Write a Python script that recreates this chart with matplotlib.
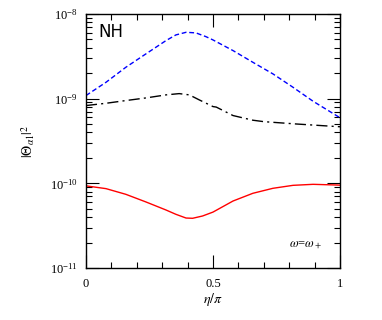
import numpy as np
import matplotlib
matplotlib.use("Agg")
import matplotlib.pyplot as plt
from matplotlib.ticker import LogLocator, NullFormatter, FixedLocator

plt.rcParams['font.family'] = ['Liberation Serif', 'DejaVu Serif']
plt.rcParams['mathtext.fontset'] = 'stix'

# values (log10 of |Theta|^2)
eta_blue = [0.0, 0.079, 0.157, 0.236, 0.315, 0.354, 0.394, 0.433, 0.472, 0.5,
            0.579, 0.657, 0.736, 0.815, 0.894, 0.986, 1.0]
log_blue = [-8.964, -8.807, -8.630, -8.472, -8.315, -8.248, -8.217, -8.224, -8.268, -8.307,
            -8.433, -8.571, -8.708, -8.866, -9.031, -9.20, -9.225]

eta_black = [0.0, 0.079, 0.157, 0.236, 0.315, 0.367, 0.407, 0.446, 0.5, 0.513,
             0.579, 0.657, 0.7, 0.83, 0.987, 1.0]
log_black = [-9.082, -9.055, -9.023, -8.992, -8.956, -8.941, -8.956, -9.015, -9.094, -9.10,
             -9.20, -9.255, -9.272, -9.30, -9.33, -9.332]

eta_red = [0.0, 0.079, 0.157, 0.236, 0.315, 0.354, 0.394, 0.42, 0.459, 0.5,
           0.579, 0.657, 0.736, 0.815, 0.894, 0.986, 1.0]
log_red = [-10.03, -10.063, -10.13, -10.22, -10.315, -10.366, -10.41, -10.413, -10.386, -10.34,
           -10.209, -10.118, -10.059, -10.024, -10.012, -10.02, -10.022]

x_major = [0, 0.5, 1]
x_labels = ['0', '0.5', '1']

fig = plt.figure(figsize=(3.82, 3.2), dpi=100)
ax = fig.add_axes([0.225, 0.1625, 0.665, 0.794])

ax.plot(eta_blue, 10**np.array(log_blue), color='blue', lw=1.0, dashes=(3.5, 2))
ax.plot(eta_black, 10**np.array(log_black), color='black', lw=1.0, dashes=(8, 3, 1.5, 3))
ax.plot(eta_red, 10**np.array(log_red), color='red', lw=1.0)

ax.set_yscale('log')
ax.set_xlim(0, 1)
ax.set_ylim(1e-11, 1e-8)
ax.set_xticks(x_major)
ax.set_xticklabels(x_labels)
ax.xaxis.set_minor_locator(FixedLocator(np.arange(0, 1.01, 0.1)))
ax.yaxis.set_major_locator(LogLocator(base=10, numticks=100))
ax.yaxis.set_minor_locator(LogLocator(base=10, subs=np.arange(2, 10), numticks=100))
ax.yaxis.set_minor_formatter(NullFormatter())
ax.tick_params(which='both', direction='in', top=True, right=True, labelsize=9,
               width=0.8, color='black')
ax.tick_params(which='major', length=9.5)
ax.tick_params(which='minor', length=4.5, width=0.8)
ax.tick_params(axis='x', which='major', pad=7)
ax.tick_params(axis='y', which='major', pad=6)
for s in ax.spines.values():
    s.set_linewidth(1.0)

ax.set_xlabel(r'$\eta/\pi$', fontsize=10, labelpad=1)
ax.set_ylabel(r'$|\Theta_{\alpha 1}|^2$', fontsize=10, labelpad=9)
ax.text(0.05, 0.93, 'NH', transform=ax.transAxes, fontsize=12, family='DejaVu Sans', va='center')
ax.text(0.8, 0.09, r'$\omega$=$\omega_+$', transform=ax.transAxes, fontsize=9, va='center')

fig.savefig('out.png', dpi=100)
